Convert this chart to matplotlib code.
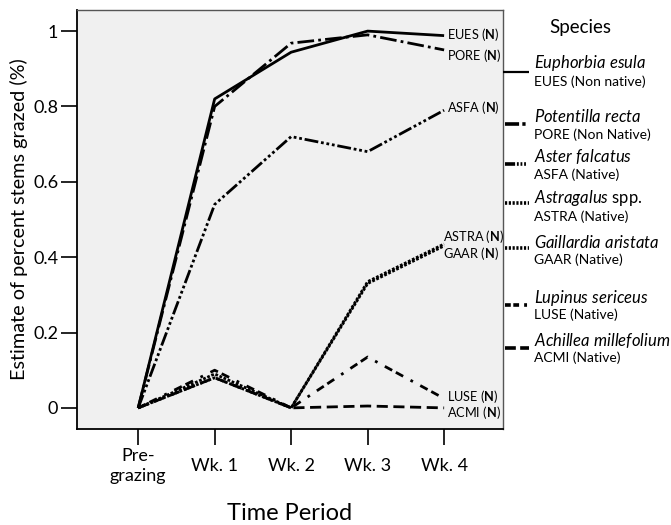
import matplotlib
matplotlib.use("Agg")
import matplotlib.pyplot as plt
from matplotlib.lines import Line2D

plt.rcParams['font.family'] = ['Lato', 'DejaVu Sans']
plt.rcParams['mathtext.fontset'] = 'custom'
plt.rcParams['mathtext.rm'] = 'Lato'
plt.rcParams['mathtext.it'] = 'Lato:italic'
plt.rcParams['mathtext.bf'] = 'Lato:bold'

periods = ['Pre-\ngrazing', 'Wk. 1', 'Wk. 2', 'Wk. 3', 'Wk. 4']
codes = ['EUES', 'PORE', 'ASFA', 'ASTRA', 'GAAR', 'LUSE', 'ACMI']
species = ['Euphorbia esula', 'Potentilla recta', 'Aster falcatus', 'Astragalus',
           'Gaillardia aristata', 'Lupinus sericeus', 'Achillea millefolium']
status = ['EUES (Non native)', 'PORE (Non Native)', 'ASFA (Native)', 'ASTRA (Native)',
          'GAAR (Native)', 'LUSE (Native)', 'ACMI (Native)']

eues = [0, 0.82, 0.944, 1.0, 0.988]
pore = [0, 0.80, 0.968, 0.99, 0.95]
asfa = [0, 0.54, 0.72, 0.68, 0.79]
astra = [0, 0.09, 0, 0.335, 0.435]
gaar = [0, 0.08, 0, 0.33, 0.43]
luse = [0, 0.10, 0, 0.135, 0.025]
acmi = [0, 0.08, 0, 0.005, 0]
series = [eues, pore, asfa, astra, gaar, luse, acmi]

# line dash patterns for the plot and shorter ones for the legend keys
styles = ['-', (0, (6, 1.5, 1, 1.5)), (0, (5, 1, 1, 1, 1, 1, 1, 1)), (0, (1, 0.6)),
          (0, (1, 0.6)), (0, (3, 1.5, 3, 3, 1, 3)), (0, (4, 2))]
key_styles = ['-', (0, (3.9, 0.9, 0.9, 5)), (0, (2.8, 0.5, 0.5, 0.5, 0.5, 0.5, 0.5, 5)),
              (0, (0.6, 0.45)), (0, (0.6, 0.45)), (0, (1.6, 0.7, 1.6, 1.4, 0.8, 5)),
              (0, (3.0, 1.2, 3.0, 5))]

fig = plt.figure(figsize=(6.71, 5.25), dpi=100)
W, H = 671, 525
ax = fig.add_axes([77 / W, 1 - 429 / H, 426 / W, 419 / H])
ax.set_facecolor('#f0f0f0')

x = list(range(len(periods)))
for vals, ls in zip(series, styles):
    ax.plot(x, vals, color='black', lw=2.0, linestyle=ls, solid_capstyle='butt')

ax.set_xlim(-0.80, 4.77)
ax.set_ylim(-0.056, 1.056)
ax.set_xticks(x)
ax.set_xticklabels(periods, fontsize=13, linespacing=1.3)
for lab in ax.get_xticklabels():
    lab.set_va('center')
ax.set_yticks([0, 0.2, 0.4, 0.6, 0.8, 1])
ax.set_yticklabels(['0', '0.2', '0.4', '0.6', '0.8', '1'], fontsize=13)
ax.tick_params(direction='out', length=11.5, width=1.2)
ax.tick_params(axis='y', pad=2)
ax.tick_params(axis='x', pad=15)
for s in ['left', 'bottom']:
    ax.spines[s].set_color('black')
    ax.spines[s].set_linewidth(1.3)
for s in ['top', 'right']:
    ax.spines[s].set_color('#555555')
    ax.spines[s].set_linewidth(1.0)

ax.set_xlabel('Time Period', fontsize=17, labelpad=14)
ax.set_ylabel('Estimate of percent stems grazed (%)', fontsize=14.3, labelpad=4)

# end-of-line labels
end_y = [0.99, 0.936, 0.796, 0.456, 0.411, 0.029, -0.013]
end_x = [4.04, 4.04, 4.04, 3.99, 3.99, 4.04, 4.04]
for c, ex, ey in zip(codes, end_x, end_y):
    ax.text(ex, ey, c + r' ($\mathbf{N}$)', fontsize=9.2, va='center', ha='left')

# legend drawn beside the axes
def fx(px):
    return px / W

def fy(py):
    return 1 - py / H

fig.text(fx(549), fy(28), 'Species', fontsize=13.5, va='center', ha='left')
name_y = [63, 116, 157, 198, 243, 298, 340]
code_y = [82, 135, 175, 217, 260, 315, 358]
line_y = [72, 124, 164, 203, 248, 305, 348]
for i in range(len(codes)):
    x0 = 503 if i == 0 else 505
    fig.add_artist(Line2D([fx(x0), fx(529)], [fy(line_y[i]), fy(line_y[i])],
                          color='black', lw=2.6 if i else 1.6, linestyle=key_styles[i],
                          solid_capstyle='butt', dash_capstyle='butt',
                          transform=fig.transFigure))
    name = r'$\mathit{' + species[i].replace(' ', r'\ ') + '}$'
    if species[i] == 'Astragalus':
        name = name + ' spp.'
    fig.text(fx(534), fy(name_y[i]), name, fontsize=12, va='center', ha='left')
    fig.text(fx(534), fy(code_y[i]), status[i], fontsize=10, va='center', ha='left')

fig.savefig('out.png', dpi=100)
